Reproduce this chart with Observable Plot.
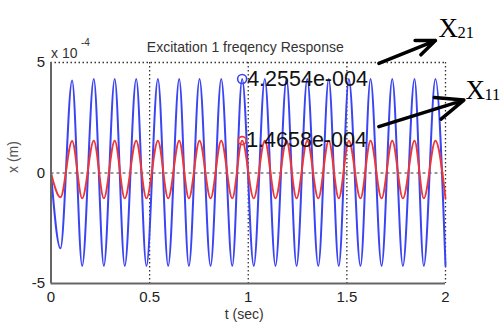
<!DOCTYPE html>
<html><head><meta charset="utf-8">
<script src="https://cdn.jsdelivr.net/npm/d3@7"></script>
<script src="https://cdn.jsdelivr.net/npm/@observablehq/plot@0.6"></script>
<style>body{margin:0;background:#fff}</style>
</head><body><div id="chart"></div>
<script>
// Extremum times (s)
const tSec = [0, 0.048, 0.107, 0.158, 0.217, 0.268, 0.323, 0.374, 0.432, 0.484, 0.542, 0.594, 0.650, 0.699, 0.753, 0.809, 0.863, 0.919, 0.969, 1.028, 1.084, 1.138, 1.194, 1.245, 1.299, 1.355, 1.408, 1.459, 1.510, 1.569, 1.620, 1.676, 1.730, 1.784, 1.843, 1.890, 1.949, 2.000];
// X21 response (units of 1e-4 m) - blue
const x21 = [0, -3.41, 4.19, -4.20, 4.25, -4.20, 4.25, -4.20, 4.25, -4.20, 4.25, -4.20, 4.25, -4.20, 4.25, -4.20, 4.25, -4.20, 4.2554, -4.20, 4.25, -4.20, 4.25, -4.20, 4.25, -4.20, 4.25, -4.20, 4.25, -4.20, 4.25, -4.20, 4.25, -4.20, 4.25, -4.20, 4.25, -4.20];
// X11 response (units of 1e-4 m) - red
const x11 = [0, -1.10, 1.45, -1.15, 1.46, -1.15, 1.46, -1.15, 1.46, -1.15, 1.46, -1.15, 1.46, -1.15, 1.46, -1.15, 1.46, -1.15, 1.4658, -1.15, 1.46, -1.15, 1.46, -1.15, 1.46, -1.15, 1.46, -1.15, 1.46, -1.15, 1.46, -1.15, 1.46, -1.15, 1.46, -1.15, 1.46, -1.15];
const xTicks = [0, 0.5, 1, 1.5, 2];
const yTicks = [-5, 0, 5];
const titleText = "Excitation 1 freqency Response";
const xLabel = "t (sec)";
const yLabel = "x (m)";
const seriesNames = ["X", "21", "X", "11"];
// annotation arrows (data coordinates)
const arrowStartT = [1.662, 1.662];
const arrowStartY = [4.96, 2.10];
const arrowEndT = [1.949, 2.093];
const arrowEndY = [5.99, 3.30];
const nameT = [1.965, 2.101];
const nameY = [6.53, 3.72];

const rows = tSec.map((t, i) => ({t, x21: x21[i], x11: x11[i]}));
const iTip = d3.maxIndex(x21);
const tip = rows[iTip];
const fmt = v => {
  const s = (v * 1e-4).toExponential(4);
  const [m, e] = s.split("e");
  const n = parseInt(e);
  return m + "e" + (n < 0 ? "-" : "+") + String(Math.abs(n)).padStart(3, "0");
};
const arrows = arrowStartT.map((t, i) => ({x1: t, y1: arrowStartY[i], x2: arrowEndT[i], y2: arrowEndY[i]}));
const names = nameT.map((t, i) => ({t, y: nameY[i], main: seriesNames[2*i], sub: seriesNames[2*i+1]}));

const BLUE = "#3a44f2", RED = "#ee3636";
const dot = "1.5,2.5";
const serif = "Liberation Serif, Times New Roman, serif";

const chart = Plot.plot({
  width: 501, height: 327,
  marginLeft: 50.5, marginRight: 56, marginTop: 62, marginBottom: 44,
  style: {fontFamily: "Liberation Sans, Arial, sans-serif", fontSize: "15px", color: "#222", background: "#fff"},
  x: {domain: [0, 2], ticks: xTicks, tickFormat: d => String(d), tickSize: 0, tickPadding: 8, label: null},
  y: {domain: [-5, 5], ticks: yTicks, tickFormat: d => String(d), tickSize: 0, tickPadding: 6, label: null},
  marks: [
    Plot.ruleY([0], {stroke: "#777", strokeDasharray: "3,3", strokeWidth: 1.3}),
    Plot.ruleX(xTicks.filter(d => d > 0), {stroke: "#333", strokeDasharray: dot, strokeWidth: 1.3}),
    Plot.ruleY([5], {stroke: "#333", strokeDasharray: dot, strokeWidth: 1.3}),
    Plot.line(rows, {x: "t", y: "x21", stroke: BLUE, strokeWidth: 2, curve: "monotone-x"}),
    Plot.line(rows, {x: "t", y: "x11", stroke: RED, strokeWidth: 1.9, curve: "monotone-x"}),
    Plot.ruleX([0], {stroke: "#666", strokeWidth: 2}),
    Plot.ruleY([-5], {stroke: "#666", strokeWidth: 2}),
    Plot.dot([tip], {x: "t", y: "x21", r: 4.5, stroke: BLUE, fill: "none", strokeWidth: 1.6}),
    Plot.dot([tip], {x: "t", y: "x11", r: 4, stroke: RED, fill: "none", strokeWidth: 1.6}),
    Plot.text([tip], {x: "t", y: "x21", text: d => fmt(d.x21), textAnchor: "start", dx: 5, fontSize: 21.5, fill: "#111"}),
    Plot.text([tip], {x: "t", y: "x11", text: d => fmt(d.x11), textAnchor: "start", dx: 4, fontSize: 21.5, fill: "#111"}),
    Plot.text([titleText], {frameAnchor: "top", dy: -20, dx: -3, fontSize: 14, fill: "#333"}),
    Plot.text([xLabel], {frameAnchor: "bottom", dy: 35, dx: -4, fontSize: 14, fill: "#333"}),
    Plot.text([yLabel], {frameAnchor: "left", dx: -37, rotate: -90, fontSize: 14, fill: "#555"}),
    Plot.text(["x 10"], {frameAnchor: "top-left", textAnchor: "start", dy: -14, fontSize: 14, fill: "#333"}),
    Plot.text(["-4"], {frameAnchor: "top-left", textAnchor: "start", dx: 30, dy: -24, fontSize: 10, fill: "#333"}),
    Plot.arrow(arrows, {x1: "x1", y1: "y1", x2: "x2", y2: "y2", stroke: "#000", strokeWidth: 3.5, headLength: 15, headAngle: 45}),
    Plot.text(names, {x: "t", y: "y", text: "main", textAnchor: "start", fontFamily: serif, fontSize: 27, fill: "#000"}),
    Plot.text(names, {x: "t", y: "y", text: "sub", textAnchor: "start", dx: 19, dy: 4, fontFamily: serif, fontSize: 16.5, fill: "#000"})
  ]
});
document.getElementById("chart").appendChild(chart);
</script>
</body></html>
